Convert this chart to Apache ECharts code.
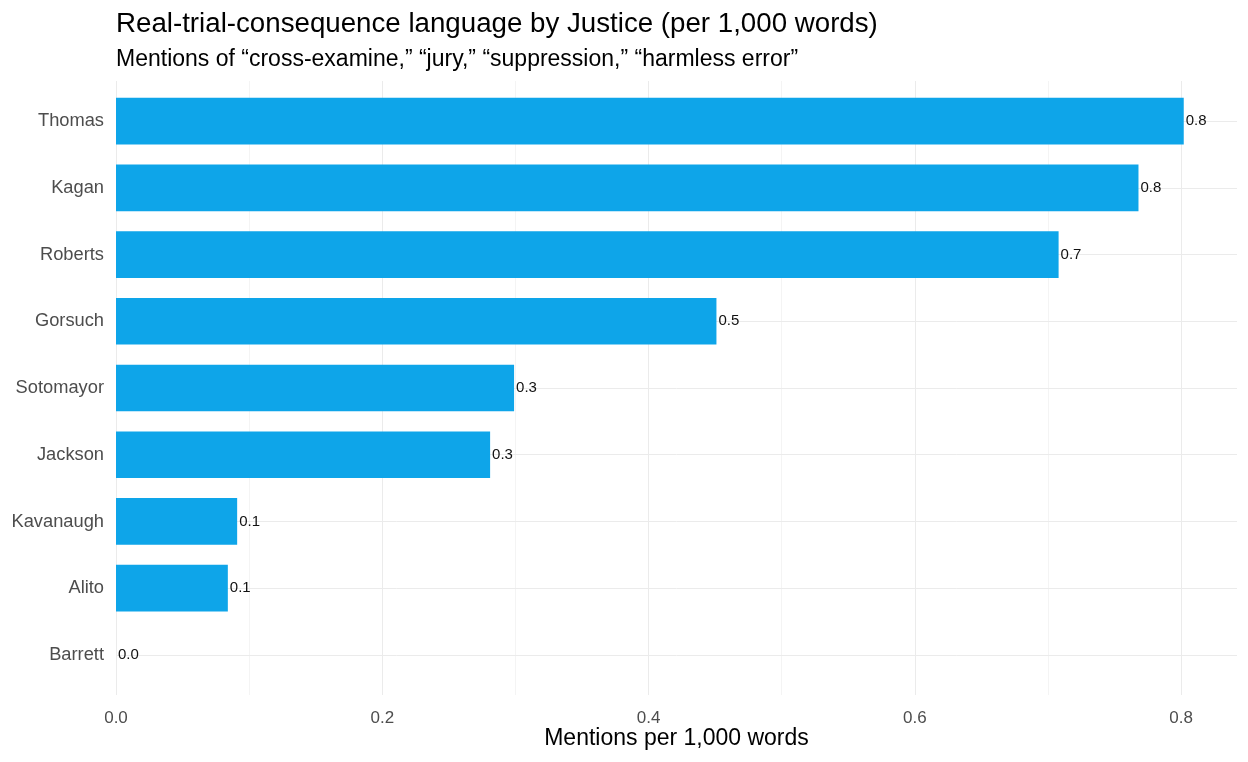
<!DOCTYPE html>
<html>
<head>
<meta charset="utf-8">
<script src="https://cdn.jsdelivr.net/npm/echarts@6/dist/echarts.min.js"></script>
<style>html,body{margin:0;padding:0;background:#fff}#c{width:1248px;height:762px}</style>
</head>
<body>
<div id="c"></div>
<script>
const justices = ['Thomas','Kagan','Roberts','Gorsuch','Sotomayor','Jackson','Kavanaugh','Alito','Barrett'];
const mentions = [0.802, 0.768, 0.708, 0.451, 0.299, 0.281, 0.091, 0.084, 0.0];
const xMax = 0.842;
const titleText = 'Real-trial-consequence language by Justice (per 1,000 words)';
const subtitleText = 'Mentions of \u201Ccross-examine,\u201D \u201Cjury,\u201D \u201Csuppression,\u201D \u201Charmless error\u201D';
const xName = 'Mentions per 1,000 words';

const FONT = "'Liberation Sans', Arial, sans-serif";
const MAJ = '#ebebeb', MIN = '#f4f4f4';
const chart = echarts.init(document.getElementById('c'), null, {renderer: 'canvas'});
chart.setOption({
  animation: false,
  backgroundColor: '#fff',
  textStyle: {fontFamily: FONT},
  title: {
    text: titleText, subtext: subtitleText,
    left: 110, top: 10, padding: [0, 6],
    itemGap: 10,
    textStyle: {fontSize: 27.7, fontWeight: 'normal', color: '#000', fontFamily: FONT},
    subtextStyle: {fontSize: 23, color: '#000', fontFamily: FONT}
  },
  grid: [
    {left: 116, right: 11, top: 81, bottom: 67},
    {left: 116, right: 11, top: 87.7, bottom: 73.7}
  ],
  xAxis: [
    {
      type: 'value', gridIndex: 0, min: 0, max: xMax, interval: 0.1,
      axisLine: {show: false}, axisTick: {show: false},
      axisLabel: {
        color: '#4d4d4d', fontSize: 17, margin: 15, showMaxLabel: false,
        formatter: v => (Math.round(v * 10) % 2 === 0 ? v.toFixed(1) : '')
      },
      splitLine: {show: true, lineStyle: {width: 1, color: [MAJ, MIN, MAJ, MIN, MAJ, MIN, MAJ, MIN, MAJ, 'rgba(0,0,0,0)']}},
      name: xName, nameLocation: 'middle', nameGap: 32, nameMoveOverlap: false,
      nameTextStyle: {fontSize: 23, color: '#000'}
    },
    {
      type: 'value', gridIndex: 1, min: 0, max: xMax, show: false
    }
  ],
  yAxis: [
    {type: 'value', gridIndex: 0, min: 0, max: 1, show: false},
    {
      type: 'category', gridIndex: 1, data: justices, inverse: true,
      axisLine: {show: false}, axisTick: {show: false}, splitLine: {show: false},
      axisLabel: {color: '#4d4d4d', fontSize: 18.3, margin: 12}
    }
  ],
  series: [
    {
      type: 'bar', xAxisIndex: 1, yAxisIndex: 1,
      data: mentions, barWidth: '70%',
      itemStyle: {color: '#0EA5E9'},
      label: {
        show: true, position: 'right', distance: 2,
        color: '#111', fontSize: 15,
        formatter: p => p.value.toFixed(1)
      },
      markLine: {
        silent: true, symbol: 'none', z: 1,
        label: {show: false},
        lineStyle: {color: MAJ, width: 1, type: 'solid'},
        data: justices.map(j => ({yAxis: j}))
      }
    }
  ]
});
</script>
</body>
</html>
